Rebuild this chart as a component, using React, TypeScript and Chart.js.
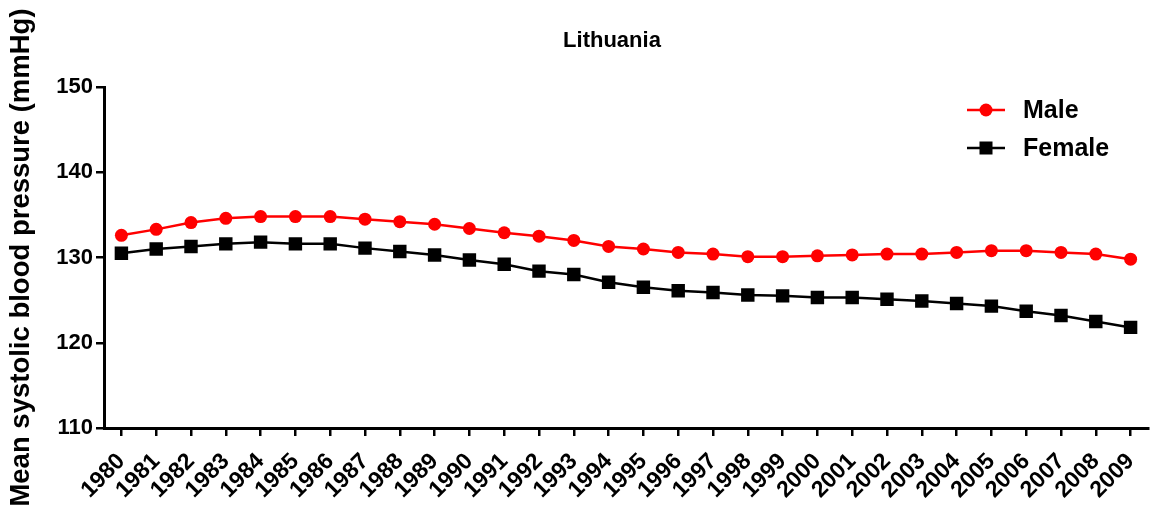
import React, { useEffect, useRef } from "react";
import { Chart, registerables } from "chart.js";

Chart.register(...registerables);

const years: string[] = [
  "1980", "1981", "1982", "1983", "1984", "1985", "1986", "1987", "1988", "1989",
  "1990", "1991", "1992", "1993", "1994", "1995", "1996", "1997", "1998", "1999",
  "2000", "2001", "2002", "2003", "2004", "2005", "2006", "2007", "2008", "2009",
];

const maleValues: number[] = [
  132.6, 133.3, 134.1, 134.6, 134.8, 134.8, 134.8, 134.5, 134.2, 133.9,
  133.4, 132.9, 132.5, 132.0, 131.3, 131.0, 130.6, 130.4, 130.1, 130.1,
  130.2, 130.3, 130.4, 130.4, 130.6, 130.8, 130.8, 130.6, 130.4, 129.8,
];

const femaleValues: number[] = [
  130.5, 131.0, 131.3, 131.6, 131.8, 131.6, 131.6, 131.1, 130.7, 130.3,
  129.7, 129.2, 128.4, 128.0, 127.1, 126.5, 126.1, 125.9, 125.6, 125.5,
  125.3, 125.3, 125.1, 124.9, 124.6, 124.3, 123.7, 123.2, 122.5, 121.8,
];

const yTicks: number[] = [110, 120, 130, 140, 150];

const chartTitle = "Lithuania";

const FONT = "'Liberation Sans', Arial, sans-serif";

const titlePlugin = {
  id: "customTitle",
  afterDraw(chart: any) {
    const ctx = chart.ctx;
    const area = chart.chartArea;
    ctx.save();
    ctx.fillStyle = "#000";
    ctx.font = `bold 22px ${FONT}`;
    ctx.textAlign = "center";
    ctx.textBaseline = "middle";
    ctx.fillText(chartTitle, (area.left + area.right) / 2 - 14, 41);
    ctx.restore();
  },
};

const legendPlugin = {
  id: "insideLegend",
  afterDraw(chart: any) {
    const ctx = chart.ctx;
    const area = chart.chartArea;
    const items = chart.data.datasets.map((ds: any) => ({
      label: ds.label,
      color: ds.borderColor,
      style: ds.pointStyle,
    }));
    ctx.save();
    const x0 = area.right - 181;
    let y = area.top + 23;
    items.forEach((it: any) => {
      ctx.strokeStyle = it.color;
      ctx.fillStyle = it.color;
      ctx.lineWidth = 2.5;
      ctx.beginPath();
      ctx.moveTo(x0, y);
      ctx.lineTo(x0 + 38, y);
      ctx.stroke();
      const cx = x0 + 19;
      if (it.style === "circle") {
        ctx.beginPath();
        ctx.arc(cx, y, 6.5, 0, Math.PI * 2);
        ctx.fill();
      } else {
        ctx.fillRect(cx - 6.5, y - 6.5, 13, 13);
      }
      ctx.fillStyle = "#000";
      ctx.font = `bold 25px ${FONT}`;
      ctx.textBaseline = "middle";
      ctx.textAlign = "left";
      ctx.fillText(it.label, x0 + 56, y + 1);
      y += 38;
    });
    ctx.restore();
  },
};

export default function App() {
  const canvasRef = useRef<HTMLCanvasElement | null>(null);

  useEffect(() => {
    document.body.style.margin = "0";
    const canvas = canvasRef.current;
    if (!canvas) return;
    const chart = new Chart(canvas, {
      type: "line",
      data: {
        labels: years,
        datasets: [
          {
            label: "Male",
            data: maleValues,
            borderColor: "#ff0000",
            backgroundColor: "#ff0000",
            borderWidth: 2.5,
            pointStyle: "circle",
            pointRadius: 6.5,
            pointBorderWidth: 0,
            tension: 0,
          },
          {
            label: "Female",
            data: femaleValues,
            borderColor: "#000000",
            backgroundColor: "#000000",
            borderWidth: 2.5,
            pointStyle: "rect",
            pointRadius: 9.5,
            pointBorderWidth: 0,
            tension: 0,
          },
        ],
      },
      options: {
        responsive: false,
        animation: false,
        layout: { autoPadding: false, padding: { left: 0, right: 3, top: 87, bottom: 0 } },
        plugins: {
          legend: { display: false },
          tooltip: { enabled: false },
          title: { display: false },
        },
        scales: {
          x: {
            type: "category",
            offset: true,
            afterFit(axis: any) {
              axis.height = 86;
              axis.paddingLeft = 0;
              axis.paddingRight = 0;
            },
            grid: {
              display: true,
              drawOnChartArea: false,
              drawTicks: true,
              tickLength: 8,
              color: "#000",
              lineWidth: 2.5,
              offset: false,
            },
            border: { display: true, color: "#000", width: 3 },
            ticks: {
              color: "#000",
              font: { family: FONT, size: 23, weight: "bold" },
              minRotation: 45,
              maxRotation: 45,
              autoSkip: false,
              padding: 12,
            },
          },
          y: {
            min: 110,
            max: 150,
            afterBuildTicks(axis: any) {
              axis.ticks = yTicks.map((v) => ({ value: v }));
            },
            afterFit(axis: any) {
              axis.width = 104;
              axis.paddingTop = 0;
              axis.paddingBottom = 0;
            },
            grid: {
              display: true,
              drawOnChartArea: false,
              drawTicks: true,
              tickLength: 8,
              color: "#000",
              lineWidth: 2.5,
            },
            border: { display: true, color: "#000", width: 3 },
            ticks: {
              color: "#000",
              font: { family: FONT, size: 22, weight: "bold" },
              padding: 3,
            },
            title: {
              display: true,
              text: "Mean systolic blood pressure (mmHg)",
              color: "#000",
              font: { family: FONT, size: 27.5, weight: "bold" },
              padding: { top: 5, bottom: 0 },
            },
          },
        },
      },
      plugins: [legendPlugin, titlePlugin],
    });
    return () => chart.destroy();
  }, []);

  return (
    <div style={{ width: 1151, height: 514, background: "#fff" }}>
      <canvas ref={canvasRef} width={1151} height={514} />
    </div>
  );
}
